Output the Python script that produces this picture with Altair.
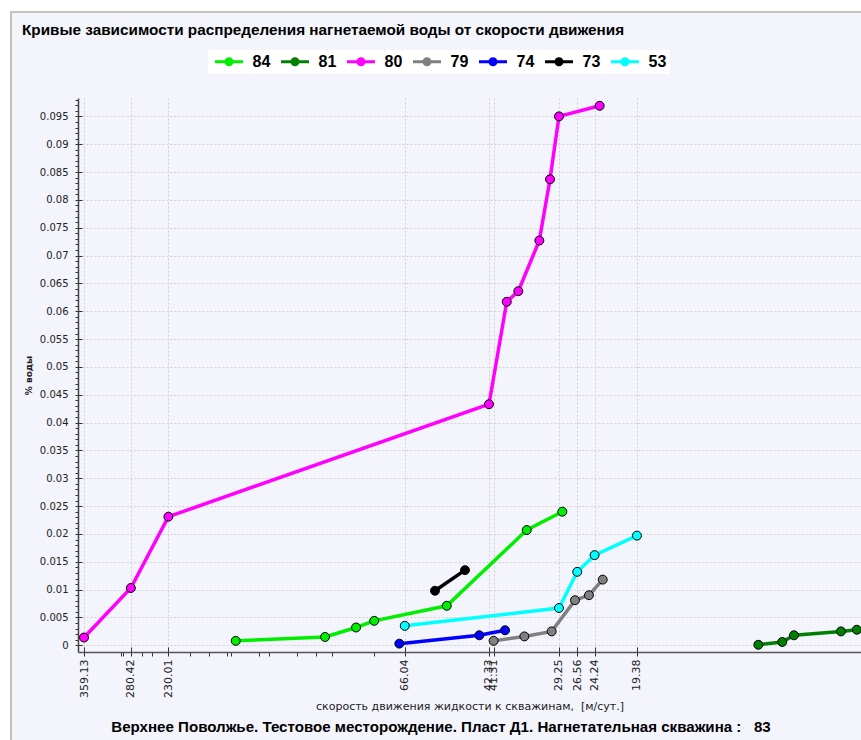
import altair as alt
import pandas as pd

# ---- series: velocity to the well (m/day) vs share of injected water ----
wells = ["84", "81", "80", "79", "74", "73", "53"]
well_colors = ["#00ee00", "#008000", "#ff00ff", "#808080", "#0000ff", "#000000", "#00ffff"]

v84 = [161.2, 100.6, 85.4, 77.6, 52.9, 34.68, 28.74]
w84 = [0.0008, 0.0015, 0.0032, 0.0044, 0.0071, 0.0207, 0.0240]

v81 = [10.21, 9.00, 8.46, 6.60, 6.07]
w81 = [0.0001, 0.0006, 0.0018, 0.0025, 0.0028]

v80 = [359.13, 280.42, 230.01, 42.33, 38.54, 36.26, 32.45, 30.67, 29.25, 23.6]
w80 = [0.0014, 0.0103, 0.0231, 0.0433, 0.0617, 0.0636, 0.0727, 0.0837, 0.0950, 0.0969]

v79 = [41.31, 35.12, 30.40, 26.88, 24.97, 23.22]
w79 = [0.0008, 0.0016, 0.0025, 0.0081, 0.0090, 0.0118]

v74 = [67.96, 44.55, 38.89]
w74 = [0.0003, 0.0018, 0.0027]

v73 = [56.3, 48.05]
w73 = [0.0098, 0.0135]

v53 = [66.04, 29.25, 26.56, 24.24, 19.38]
w53 = [0.0035, 0.0067, 0.0132, 0.0162, 0.0197]

# ---- axis ticks ----
x_major = [359.13, 280.42, 230.01, 66.04, 42.33, 41.31, 29.25, 26.56, 24.24, 19.38]
x_minor = [295.3, 291.8, 264.0, 251.2, 205.2, 185.6, 169.1, 165.5, 142.6, 135.2,
           116.8, 105.7, 97.1, 77.7]
y_major = [round(i * 0.005, 3) for i in range(20)]
y_all = [round(i * 0.001, 3) for i in range(99)]

title_text = "Кривые зависимости распределения нагнетаемой воды от скорости движения"
x_title = "скорость движения жидкости к скважинам,\u00a0 [м/сут.]"
y_title = "% воды"
caption = "Верхнее Поволжье. Тестовое месторождение. Пласт Д1. Нагнетательная скважина :\u00a0\u00a0 83"

series = {"84": (v84, w84), "81": (v81, w81), "80": (v80, w80), "79": (v79, w79),
          "74": (v74, w74), "73": (v73, w73), "53": (v53, w53)}
rows = []
for name, (vs, ws) in series.items():
    for i, (v, w) in enumerate(zip(vs, ws)):
        rows.append({"well": name, "v": v, "w": w, "idx": i})
df = pd.DataFrame(rows)

W, H = 783, 554
BG = "#f4f4fc"

x_scale = alt.Scale(type="log", domain=[5.938, 370.7], reverse=True, nice=False, zero=False)
y_scale = alt.Scale(domain=[-0.0012, 0.0983], nice=False, zero=False)
color_scale = alt.Scale(domain=wells, range=well_colors)

major_list = ",".join(str(v) for v in x_major)
x_axis_main = alt.Axis(
    orient="bottom", values=x_major + x_minor,
    labelExpr=f"indexof([{major_list}], datum.value) >= 0 ? format(datum.value, '.2f') : ''",
    labelAngle=270, labelFont="DejaVu Sans", labelFontSize=11, labelColor="#222222",
    labelOverlap=False, labelFlush=False, labelPadding=3,
    tickSize=4, tickColor="#333333", domainColor="#555555", domainWidth=1.5, grid=False,
    title=x_title, titleFont="DejaVu Sans", titleFontSize=11, titleFontWeight="normal",
    titleColor="#222222", titlePadding=3,
)
x_axis_cross = alt.Axis(
    orient="top", offset=-H, values=x_major, labels=False, domain=False,
    tickSize=5, tickColor="#333333", grid=True, gridColor="#d0d0d0", gridDash=[2, 2],
    title=None,
)
y_axis_main = alt.Axis(
    orient="left", values=y_all,
    labelExpr="round(datum.value * 1000) % 5 == 0 ? format(datum.value, '~g') : ''",
    labelFont="DejaVu Sans", labelFontSize=10, labelColor="#222222", labelPadding=7,
    tickSize=3, tickColor="#333333", domainColor="#444444", domainWidth=1.5, grid=False,
    title=y_title, titleFont="DejaVu Sans", titleFontSize=9, titleFontWeight="bold",
    titleColor="#222222", titlePadding=6,
)
y_axis_cross = alt.Axis(
    orient="right", offset=-W, values=y_major, labels=False, domain=False,
    tickSize=4, tickColor="#333333", grid=True, gridColor="#d0d0d0", gridDash=[2, 2],
    title=None,
)

# legend key: a short line with a ring in the middle
legend = alt.Legend(
    orient="none", legendX=130, legendY=-48, direction="horizontal", title=None,
    symbolType="M-2,0L2,0M-0.43,0A0.43,0.43,0,1,0,0.43,0A0.43,0.43,0,1,0,-0.43,0",
    symbolSize=196, symbolStrokeWidth=3, symbolOpacity=1, symbolOffset=9.5,
    labelFont="Liberation Sans", labelFontSize=16, labelFontWeight="bold",
    labelColor="black", labelOffset=15, columnPadding=4, padding=3,
    fillColor="white",
)

lines = alt.Chart(df).mark_line(strokeWidth=3.5, clip=True).encode(
    x=alt.X("v:Q", scale=x_scale, axis=x_axis_main),
    y=alt.Y("w:Q", scale=y_scale, axis=y_axis_main),
    color=alt.Color("well:N", scale=color_scale, legend=legend),
    order="idx:Q",
)
points = alt.Chart(df).mark_point(
    filled=True, size=80, stroke="black", strokeWidth=1, opacity=1, clip=True
).encode(
    x=alt.X("v:Q", scale=x_scale, axis=x_axis_cross),
    y=alt.Y("w:Q", scale=y_scale, axis=y_axis_cross),
    color=alt.Color("well:N", scale=color_scale, legend=None),
)

# panel frame: white margin and grey edge around the chart panel
one = pd.DataFrame({"k": [0]})
margin_left = alt.Chart(one).mark_rect(color="white").encode(
    x=alt.value(-78), x2=alt.value(-68), y=alt.value(-98), y2=alt.value(H + 88))
margin_top = alt.Chart(one).mark_rect(color="white").encode(
    x=alt.value(-78), x2=alt.value(W), y=alt.value(-98), y2=alt.value(-87))
edge_v = alt.Chart(one).mark_rule(color="#c6c2ba", strokeWidth=2).encode(
    x=alt.value(-67), y=alt.value(-87), y2=alt.value(H + 88))
edge_h = alt.Chart(one).mark_rule(color="#c6c2ba", strokeWidth=2).encode(
    x=alt.value(-68), x2=alt.value(W), y=alt.value(-86))

caption_mark = alt.Chart(one).mark_text(
    font="Liberation Sans", fontSize=15.1, fontWeight="bold", color="black",
    align="center", baseline="middle",
).encode(x=alt.value(363), y=alt.value(H + 75), text=alt.value(caption))

chart = alt.layer(
    margin_left, margin_top, edge_v, edge_h, lines, points, caption_mark
).properties(
    width=W, height=H, background=BG,
    padding={"left": 78, "top": 98, "right": 0, "bottom": 88},
    autosize=alt.AutoSizeParams(type="none"),
    title=alt.Title(
        text=title_text, anchor="start", frame="group", dx=-56, offset=-50,
        baseline="alphabetic",
        font="Liberation Sans", fontSize=15.3, fontWeight="bold", color="black",
    ),
).configure_view(stroke=None, fill=BG)

chart.save("out.html", embed_options={"renderer": "svg", "actions": False})
